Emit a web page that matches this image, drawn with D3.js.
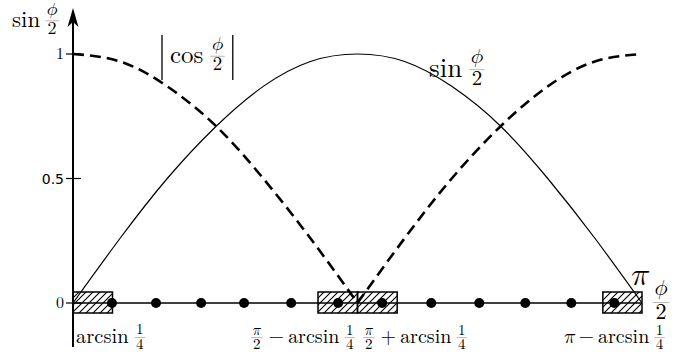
<!DOCTYPE html>
<html>
<head>
<meta charset="utf-8">
<script src="https://cdn.jsdelivr.net/npm/d3@7"></script>
<style>
  html, body { margin: 0; padding: 0; background: #fff; }
  svg { display: block; }
</style>
</head>
<body>
<svg id="chart" width="689" height="356"></svg>
<script>
// ---- data ----
const phiHalf = [0, 0.26, 0.52, 0.79, 1.05, 1.31, 1.57, 1.83, 2.09, 2.36, 2.62, 2.88, 3.14];
const sinValues = [0, 0.26, 0.5, 0.71, 0.87, 0.97, 1, 0.97, 0.87, 0.71, 0.5, 0.26, 0];
const absCosValues = [1, 0.97, 0.87, 0.71, 0.5, 0.26, 0, 0.26, 0.5, 0.71, 0.87, 0.97, 1];
const dotPositions = [0.215, 0.458, 0.707, 0.944, 1.204, 1.463, 1.706, 1.977, 2.242, 2.496, 2.750, 2.987];
const boxIntervals = [[0, 0.218], [1.352, 1.570], [1.570, 1.789], [2.924, 3.14]];
const yTickValues = [0, 0.5, 1];
const yTickLabels = ["0", "0.5", "1"];

const svg = d3.select("#chart");
const x = d3.scaleLinear().domain([0, 3.14]).range([73, 642]);
const y = d3.scaleLinear().domain([0, 1]).range([303, 54]);

// font detection (single family names only)
const cv = document.createElement("canvas").getContext("2d");
function hasFont(f, sample) {
  cv.font = `30px "NoSuchFontXyz"`; const a = cv.measureText(sample).width;
  cv.font = `30px "${f}"`; const b = cv.measureText(sample).width;
  return Math.abs(a - b) > 0.5;
}
const LM = '"Latin Modern Roman"';
const hasMath = hasFont("Latin Modern Math", "abcxyz\u{1D70B}\u{1D719}");
const MATHF = hasMath ? '"Latin Modern Math"' : LM;
const PHI = hasMath ? "\u{1D719}" : "\u03D5";
const PI = hasMath ? "\u{1D70B}" : "\u03C0";
const phiItalic = !hasMath;

// hatch pattern
const defs = svg.append("defs");
const pat = defs.append("pattern").attr("id", "hatch")
  .attr("patternUnits", "userSpaceOnUse").attr("width", 7).attr("height", 7);
pat.append("path").attr("d", "M-1,8 L8,-1 M-4,4 L4,-4 M3,11 L11,3")
  .attr("stroke", "#000").attr("stroke-width", 1.1);

// curves
const pts = phiHalf.map((t, i) => ({t, s: sinValues[i], c: absCosValues[i]}));
const sinLine = d3.line().x(d => x(d.t)).y(d => y(d.s)).curve(d3.curveNatural);
const cosLine = d3.line().x(d => x(d.t)).y(d => y(d.c)).curve(d3.curveNatural);

svg.append("path").attr("d", sinLine(pts)).attr("fill", "none")
  .attr("stroke", "#000").attr("stroke-width", 1.2);
[pts.slice(0, 7), pts.slice(6)].forEach(seg => {
  svg.append("path").attr("d", cosLine(seg)).attr("fill", "none")
    .attr("stroke", "#000").attr("stroke-width", 2.6)
    .attr("stroke-dasharray", "11,6");
});

// x axis line
svg.append("line").attr("x1", x(0)).attr("x2", x(3.14))
  .attr("y1", y(0)).attr("y2", y(0)).attr("stroke", "#000").attr("stroke-width", 1.6);

// hatched boxes
svg.selectAll("rect.box").data(boxIntervals).enter().append("rect")
  .attr("class", "box")
  .attr("x", d => x(d[0])).attr("width", d => x(d[1]) - x(d[0]))
  .attr("y", y(0) - 11).attr("height", 21)
  .attr("fill", "url(#hatch)").attr("stroke", "#000").attr("stroke-width", 1.5);

// dots
svg.selectAll("circle.dot").data(dotPositions).enter().append("circle")
  .attr("cx", d => x(d)).attr("cy", y(0)).attr("r", 5).attr("fill", "#000");

// y axis with arrow
svg.append("line").attr("x1", x(0)).attr("x2", x(0)).attr("y1", 347).attr("y2", 18)
  .attr("stroke", "#000").attr("stroke-width", 2);
svg.append("path").attr("d", `M${x(0)},8 L${x(0)+5.5},27 L${x(0)},22 L${x(0)-5.5},27 Z`)
  .attr("fill", "#000");

// y ticks
yTickValues.forEach((v, i) => {
  svg.append("line").attr("x1", x(0) - 7).attr("x2", x(0) + 8)
    .attr("y1", y(v)).attr("y2", y(v)).attr("stroke", "#000").attr("stroke-width", 1.2);
  const sans = yTickLabels[i] === "0.5";
  svg.append("text")
    .attr("x", x(0) - 9).attr("y", y(v) + 5)
    .attr("text-anchor", "end")
    .style("font-family", sans ? '"DejaVu Sans"' : LM)
    .style("font-size", (sans ? 14 : 16) + "px")
    .attr("fill", "#000").text(yTickLabels[i]);
});

// ---- math label builder ----
function isGreek(s) { return s === PHI || s === PI; }
function mathLabel(x0, base, items, size) {
  const g = svg.append("g");
  let cx = x0;
  const txt = (s, fs) => g.append("text")
    .style("font-family", isGreek(s) ? MATHF : LM)
    .style("font-size", fs + "px")
    .style("font-style", (s === PHI && phiItalic) ? "italic" : "normal").text(s);
  items.forEach(it => {
    if (it.gap) { cx += it.gap; return; }
    if (it.frac) {
      const fs = it.size || size * 0.7;
      const n = txt(it.frac[0], fs).attr("text-anchor", "middle");
      const d = txt(it.frac[1], fs).attr("text-anchor", "middle");
      const w = Math.max(n.node().getComputedTextLength(), d.node().getComputedTextLength()) + 3;
      const mid = cx + w / 2 + 1;
      const barY = base - size * 0.27;
      n.attr("x", mid).attr("y", barY - fs * 0.2 - (it.frac[0] === PHI ? fs * 0.14 : 0));
      d.attr("x", mid).attr("y", barY + fs * 0.74);
      g.append("line").attr("x1", mid - w / 2).attr("x2", mid + w / 2)
        .attr("y1", barY).attr("y2", barY).attr("stroke", "#888").attr("stroke-width", 0.6);
      cx += w + 2;
    } else if (it.bar) {
      g.append("line").attr("x1", cx + 2).attr("x2", cx + 2)
        .attr("y1", base - it.bar[0]).attr("y2", base + it.bar[1])
        .attr("stroke", "#000").attr("stroke-width", 1.3);
      cx += 5;
    } else {
      const t = txt(it.t, it.size || size).attr("x", cx).attr("y", base);
      cx += t.node().getComputedTextLength();
    }
  });
  return g;
}

// y axis title
mathLabel(12, 27, [{t: "sin"}, {gap: 4}, {frac: [PHI, "2"], size: 18}], 23);
// |cos φ/2|
mathLabel(160, 63, [{bar: [28, 17]}, {gap: 5}, {t: "cos"}, {gap: 6}, {frac: [PHI, "2"], size: 19}, {gap: 5}, {bar: [28, 17]}], 25);
// sin φ/2 on curve
mathLabel(429, 77, [{t: "sin"}, {gap: 6}, {frac: [PHI, "2"], size: 21}], 27);
// π at end of axis
svg.append("text").attr("x", 631).attr("y", 285)
  .style("font-family", MATHF).style("font-size", "32px").text(PI);
mathLabel(652, 309, [{frac: [PHI, "2"], size: 22}], 24);

// bottom labels
mathLabel(76, 343, [{t: "arcsin"}, {gap: 5}, {frac: ["1", "4"], size: 15}], 20.5);
mathLabel(250, 343, [{frac: [PI, "2"], size: 15}, {gap: 5}, {t: "−"}, {gap: 4}, {t: "arcsin"}, {gap: 4}, {frac: ["1", "4"], size: 15}], 20);
mathLabel(362, 343, [{frac: [PI, "2"], size: 15}, {gap: 5}, {t: "+"}, {gap: 4}, {t: "arcsin"}, {gap: 4}, {frac: ["1", "4"], size: 15}], 20);
mathLabel(564, 343, [{t: PI}, {gap: 3}, {t: "−"}, {gap: 4}, {t: "arcsin"}, {gap: 4}, {frac: ["1", "4"], size: 15}], 20);
</script>
</body>
</html>
